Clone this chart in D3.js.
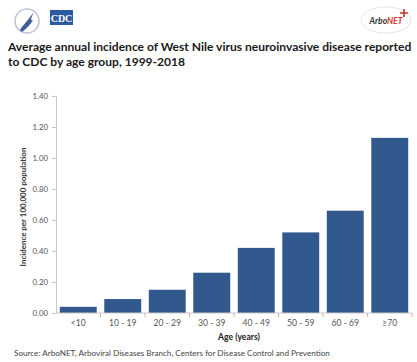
<!DOCTYPE html>
<html><head><meta charset="utf-8">
<script src="https://cdn.jsdelivr.net/npm/d3@7"></script>
<style>body{margin:0;background:#fff}svg{display:block}</style>
</head><body>
<svg id="c" width="417" height="362"></svg>
<script>
const categories = ["<10","10 - 19","20 - 29","30 - 39","40 - 49","50 - 59","60 - 69","\u226570"];
const incidence = [0.04,0.09,0.15,0.26,0.42,0.52,0.66,1.13];
const yTicks = [0,0.2,0.4,0.6,0.8,1.0,1.2,1.4];
const titleLines = ["Average annual incidence of West Nile virus neuroinvasive disease reported","to CDC by age group, 1999-2018"];
const yTitle = "Incidence per 100,000 population";
const xTitle = "Age (years)";
const source = "Source: ArboNET, Arboviral Diseases Branch, Centers for Disease Control and Prevention";

const svg = d3.select("#c");
const font = "Lato, 'Open Sans', sans-serif";
const m = {left:56, right:412, top:96, bottom:313};

function fit(sel, target){
  const fs = +sel.attr("font-size");
  const w = sel.node().getComputedTextLength();
  sel.attr("font-size", fs*target/w);
  return fs*target/w;
}

const x = d3.scaleBand().domain(categories).range([m.left, m.right]).paddingInner(0.17).paddingOuter(0.085);
const y = d3.scaleLinear().domain([0,1.4]).range([m.bottom, m.top]);

// logos
const logo = svg.append("g");
logo.append("circle").attr("cx",27).attr("cy",21).attr("r",12).attr("fill","none").attr("stroke","#b8c4d6").attr("stroke-width",1.5);
logo.append("path").attr("d","M20,30 C24,24 28,20 34,12 C31,18 30,21 33,20 C30,25 27,28 22,32 Z").attr("fill","#3e5f93");
logo.append("rect").attr("x",50).attr("y",10).attr("width",23).attr("height",15).attr("fill","#2b5aa0");
logo.append("text").attr("x",61.5).attr("y",21.5).attr("text-anchor","middle").attr("font-family","'Liberation Serif', serif").attr("font-weight","bold").attr("font-size",10).attr("fill","#fff").text("CDC");
const ab = svg.append("g");
ab.append("ellipse").attr("cx",386).attr("cy",20).attr("rx",25).attr("ry",13).attr("fill","#fff").attr("stroke","#e6e6e6");
const at = ab.append("text").attr("x",386).attr("y",24).attr("text-anchor","middle").attr("font-family",font).attr("font-style","italic").attr("font-weight","bold").attr("font-size",8.5);
at.append("tspan").attr("fill","#333").text("Arbo");
at.append("tspan").attr("fill","#d9352b").text("NET");
ab.append("path").attr("d","M404,9 l0,8 M400,13 l8,0").attr("stroke","#c0392b").attr("stroke-width",1.6);

// title
const t1 = svg.append("text").attr("x",8).attr("y",51).attr("font-family",font).attr("font-weight","bold").attr("font-size",12).attr("fill","#1a1a1a").text(titleLines[0]);
const tfs = fit(t1, 404);
svg.append("text").attr("x",8).attr("y",66).attr("font-family",font).attr("font-weight","bold").attr("font-size",tfs).attr("fill","#1a1a1a").text(titleLines[1]);

// y axis
const yAxis = d3.axisLeft(y).tickValues(yTicks).tickFormat(d3.format(".2f")).tickSize(4).tickPadding(4);
const gy = svg.append("g").attr("transform",`translate(${m.left},0)`).call(yAxis);
gy.select(".domain").attr("stroke","#c8c8c8");
gy.selectAll(".tick line").attr("stroke","#c8c8c8");
gy.selectAll(".tick text").attr("font-family",font).attr("font-size",7.8).attr("fill","#555");

// bars
svg.append("g").selectAll("rect").data(incidence).join("rect")
  .attr("x",(d,i)=>x(categories[i])).attr("width",x.bandwidth())
  .attr("y",d=>y(d)).attr("height",d=>y(0)-y(d)).attr("fill","#31598e");

// x axis
const gx = svg.append("g").attr("transform",`translate(0,${m.bottom})`);
gx.append("line").attr("x1",m.left).attr("x2",m.right).attr("stroke","#c8c8c8");
const step = x.step();
const bounds = categories.map((c,i)=>x(c)+x.bandwidth()/2+step/2);
gx.selectAll(".tk").data(bounds).join("line").attr("class","tk").attr("x1",d=>d).attr("x2",d=>d).attr("y1",0).attr("y2",4).attr("stroke","#d9b0a8");
gx.selectAll(".lb").data(categories).join("text").attr("class","lb")
  .attr("x",d=>x(d)+x.bandwidth()/2).attr("y",13).attr("text-anchor","middle")
  .attr("font-family",font).attr("font-size",8.6).attr("fill","#555").text(d=>d);

const xt = svg.append("text").attr("x",239).attr("y",340).attr("text-anchor","middle").attr("font-family",font).attr("font-weight","bold").attr("font-size",7.5).attr("fill","#222").text(xTitle);
fit(xt, 42);
const yt = svg.append("text").attr("transform","translate(26,207) rotate(-90)").attr("text-anchor","middle").attr("font-family",font).attr("font-weight","bold").attr("font-size",7).attr("fill","#333").text(yTitle);
fit(yt, 119);
const st = svg.append("text").attr("x",14).attr("y",356).attr("font-family",font).attr("font-size",7.2).attr("fill","#444").text(source);
fit(st, 316);
</script>
</body></html>
